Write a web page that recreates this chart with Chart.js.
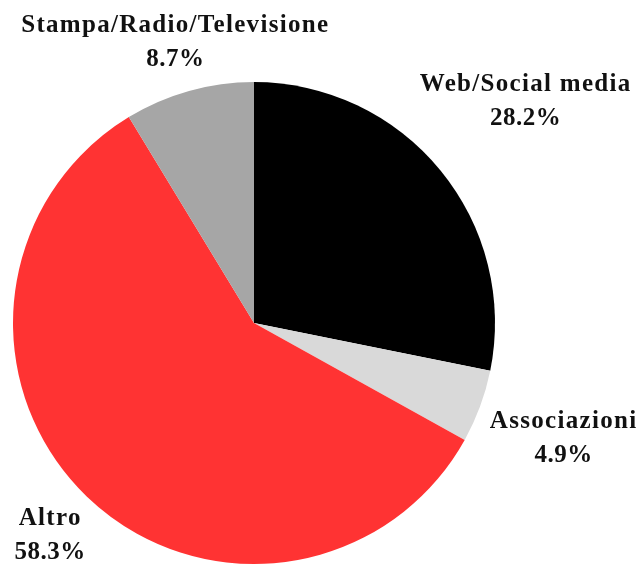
<!DOCTYPE html>
<html>
<head>
<meta charset="utf-8">
<script src="https://cdn.jsdelivr.net/npm/chart.js@4"></script>
<style>
  html, body { margin: 0; padding: 0; background: #fff; }
  #wrap { width: 642px; height: 566px; }
</style>
</head>
<body>
<div id="wrap"><canvas id="pieChart" width="642" height="566"></canvas></div>
<script>
const labels = ["Web/Social media", "Associazioni", "Altro", "Stampa/Radio/Televisione"];
const shares = [28.2, 4.9, 58.3, 8.7];
const colors = ["#000000", "#d9d9d9", "#ff3333", "#a6a6a6"];

// how far past the rim each label sits, along the slice's middle angle
const labelGap = [110, 89, 53, 51];

const outsideLabels = {
  id: 'outsideLabels',
  afterDraw(chart) {
    const ctx = chart.ctx;
    const arcs = chart.getDatasetMeta(0).data;
    ctx.save();
    ctx.fillStyle = '#111';
    ctx.textAlign = 'center';
    ctx.textBaseline = 'middle';
    arcs.forEach((arc, i) => {
      const mid = (arc.startAngle + arc.endAngle) / 2;
      const r = arc.outerRadius + labelGap[i];
      const x = arc.x + Math.cos(mid) * r;
      const y = arc.y + Math.sin(mid) * r;
      ctx.font = 'bold 25px "Liberation Serif", serif';
      ctx.letterSpacing = '1.3px';
      ctx.fillText(labels[i], x, y - 16);
      ctx.font = 'bold 25px "Liberation Serif", serif';
      ctx.letterSpacing = '0.5px';
      ctx.fillText(shares[i].toFixed(1) + '%', x, y + 18);
    });
    ctx.restore();
  }
};

new Chart(document.getElementById('pieChart'), {
  type: 'pie',
  data: {
    labels: labels,
    datasets: [{
      data: shares,
      backgroundColor: colors,
      borderWidth: 0
    }]
  },
  options: {
    responsive: false,
    animation: false,
    layout: { padding: { left: 13, top: 82, right: 147, bottom: 2 } },
    plugins: {
      legend: { display: false },
      tooltip: { enabled: false }
    }
  },
  plugins: [outsideLabels]
});
</script>
</body>
</html>
